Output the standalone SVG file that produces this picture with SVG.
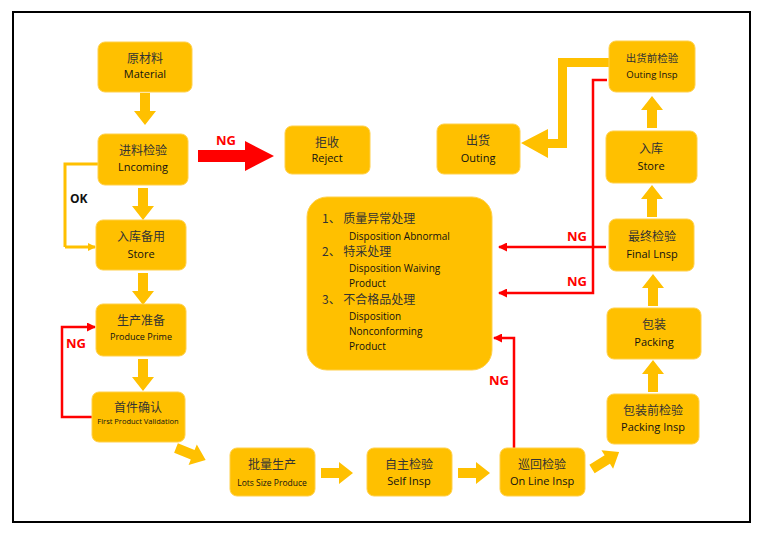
<svg xmlns="http://www.w3.org/2000/svg" width="762" height="535" viewBox="0 0 762 535">
<defs>
<marker id="ry" markerWidth="8" markerHeight="8" refX="7" refY="4" orient="auto" markerUnits="userSpaceOnUse"><path d="M0,0 L8,4 L0,8 z" fill="#FFC000"/></marker>
<marker id="rr" markerWidth="9" markerHeight="9" refX="8" refY="4.5" orient="auto" markerUnits="userSpaceOnUse"><path d="M0,0 L9,4.5 L0,9 z" fill="#FF0000"/></marker>
<path id="ba" d="M-5,0 L5,0 L5,-18 L11,-18 L0,-32 L-11,-18 L-5,-18 z"/>
</defs>
<style>
.n{fill:#FFC000;stroke:#FFD04A;stroke-width:1}
.cn{font-family:"Noto Sans CJK SC",sans-serif;font-size:12px;fill:#333;text-anchor:middle}
.en{font-family:"Open Sans","Liberation Sans",sans-serif;font-size:11px;fill:#111;text-anchor:middle}
.ng{font-family:"Open Sans","Liberation Sans",sans-serif;font-size:13px;font-weight:bold;fill:#FF0000}
.y{fill:#FFC000}
.rl{fill:none;stroke:#FF0000;stroke-width:2.5}
</style>
<rect x="13" y="12" width="737" height="510" fill="#fff" stroke="#000" stroke-width="2"/>
<g id="connectors">
<g class="y">
<use href="#ba" transform="translate(145,93) rotate(180)"/>
<use href="#ba" transform="translate(143,188) rotate(180)"/>
<use href="#ba" transform="translate(143,273) rotate(180)"/>
<use href="#ba" transform="translate(143,359) rotate(180)"/>
<use href="#ba" transform="translate(176,448) rotate(112)"/>
<use href="#ba" transform="translate(321,473) rotate(90)"/>
<use href="#ba" transform="translate(458,473) rotate(90)"/>
<use href="#ba" transform="translate(592,469) rotate(58)"/>
<use href="#ba" transform="translate(653,392)"/>
<use href="#ba" transform="translate(653,306)"/>
<use href="#ba" transform="translate(652,217)"/>
<use href="#ba" transform="translate(652,128)"/>
<path d="M609,58 L558,58 L558,139 L548,139 L548,129 L521,143 L548,158 L548,148 L567,148 L567,67 L609,67 z"/>
</g>
<path d="M98,164 L65,164 L65,247" fill="none" stroke="#FFC000" stroke-width="3"/>
<path d="M65,247 L95,247" fill="none" stroke="#FFC000" stroke-width="3" marker-end="url(#ry)"/>
<text x="70" y="203" font-family="Open Sans,Liberation Sans,sans-serif" font-size="12" font-weight="bold" fill="#111">OK</text>
<path d="M198,150 L245,150 L245,141 L274,156 L245,171 L245,162 L198,162 z" fill="#FF0000"/>
<text class="ng" x="216" y="145">NG</text>
<path class="rl" d="M92,417 L62,417 L62,327 L95,327" marker-end="url(#rr)"/>
<text class="ng" x="66" y="348">NG</text>
<path class="rl" d="M606,247 L499,247" marker-end="url(#rr)"/>
<text class="ng" x="567" y="241">NG</text>
<path class="rl" d="M607,80 L593,80 L593,293 L499,293" marker-end="url(#rr)"/>
<text class="ng" x="567" y="286">NG</text>
<path class="rl" d="M514,448 L514,338 L494,338" marker-end="url(#rr)"/>
<text class="ng" x="489" y="385">NG</text>
</g>
<g id="material"><rect class="n" x="98" y="42" width="94" height="50" rx="7"/><text class="cn" x="145" y="63">原材料</text><text class="en" x="145" y="78">Material</text></g>
<g id="incoming"><rect class="n" x="98" y="134" width="90" height="51" rx="7"/><text class="cn" x="143" y="155">进料检验</text><text class="en" x="143" y="171">Lncoming</text></g>
<g id="reject"><rect class="n" x="285" y="126" width="85" height="48" rx="7"/><text class="cn" x="327" y="147">拒收</text><text class="en" x="327" y="162">Reject</text></g>
<g id="store1"><rect class="n" x="96" y="220" width="90" height="50" rx="7"/><text class="cn" x="141" y="241">入库备用</text><text class="en" x="141" y="258">Store</text></g>
<g id="prime"><rect class="n" x="96" y="304" width="90" height="52" rx="7"/><text class="cn" x="141" y="325">生产准备</text><text class="en" x="141" y="340" style="font-size:9px">Produce Prime</text></g>
<g id="first"><rect class="n" x="92" y="392" width="93" height="50" rx="7"/><text class="cn" x="138" y="412">首件确认</text><text class="en" x="138" y="424" style="font-size:7.5px">First Product Validation</text></g>
<g id="lots"><rect class="n" x="230" y="448" width="85" height="48" rx="7"/><text class="cn" x="272" y="469">批量生产</text><text class="en" x="272" y="486" style="font-size:8.5px">Lots Size Produce</text></g>
<g id="self"><rect class="n" x="367" y="448" width="85" height="48" rx="7"/><text class="cn" x="409" y="469">自主检验</text><text class="en" x="409" y="485">Self Insp</text></g>
<g id="online"><rect class="n" x="500" y="448" width="85" height="48" rx="7"/><text class="cn" x="542" y="469">巡回检验</text><text class="en" x="542" y="485">On Line Insp</text></g>
<g id="packinsp"><rect class="n" x="607" y="394" width="92" height="50" rx="7"/><text class="cn" x="653" y="415">包装前检验</text><text class="en" x="653" y="431">Packing Insp</text></g>
<g id="packing"><rect class="n" x="607" y="308" width="94" height="51" rx="7"/><text class="cn" x="654" y="329">包装</text><text class="en" x="654" y="346">Packing</text></g>
<g id="final"><rect class="n" x="609" y="219" width="85" height="52" rx="7"/><text class="cn" x="652" y="241">最终检验</text><text class="en" x="652" y="258">Final Lnsp</text></g>
<g id="store2"><rect class="n" x="606" y="131" width="91" height="52" rx="7"/><text class="cn" x="651" y="153">入库</text><text class="en" x="651" y="170">Store</text></g>
<g id="outinsp"><rect class="n" x="609" y="41" width="86" height="51" rx="7"/><text class="cn" x="652" y="62" style="font-size:10.5px">出货前检验</text><text class="en" x="652" y="78" style="font-size:9.5px">Outing Insp</text></g>
<g id="outing"><rect class="n" x="437" y="124" width="83" height="50" rx="7"/><text class="cn" x="478" y="145">出货</text><text class="en" x="478" y="162">Outing</text></g>
<g id="center"><rect class="n" x="307" y="197" width="185" height="173" rx="20"/>
<g font-family="Open Sans,Liberation Sans,sans-serif" font-size="10" fill="#111">
<text x="322" y="223" font-family="Noto Sans CJK SC,sans-serif" font-size="12" fill="#333">1、  质量异常处理</text>
<text x="349" y="240">Disposition Abnormal</text>
<text x="322" y="256" font-family="Noto Sans CJK SC,sans-serif" font-size="12" fill="#333">2、  特采处理</text>
<text x="349" y="272">Disposition Waiving</text>
<text x="349" y="287">Product</text>
<text x="322" y="304" font-family="Noto Sans CJK SC,sans-serif" font-size="12" fill="#333">3、  不合格品处理</text>
<text x="349" y="320">Disposition</text>
<text x="349" y="335">Nonconforming</text>
<text x="349" y="350">Product</text>
</g></g>
</svg>
